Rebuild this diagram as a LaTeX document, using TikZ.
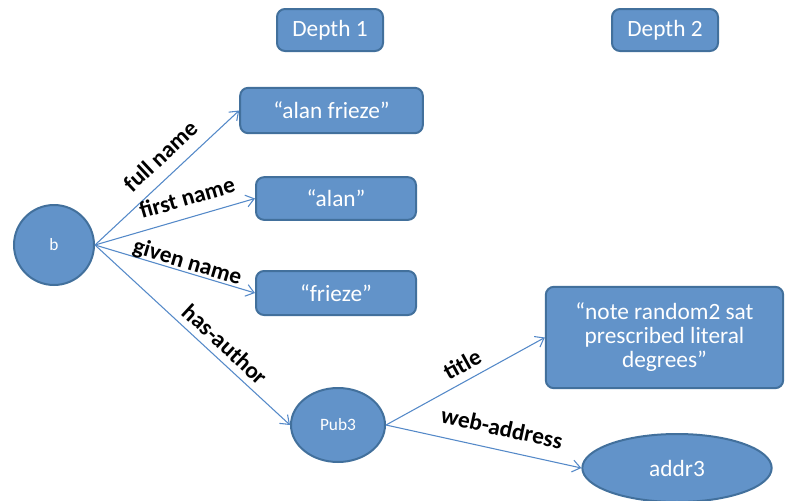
\documentclass[tikz,border=0pt]{standalone}
\usepackage{fontspec}
\setmainfont{Carlito}
\usetikzlibrary{arrows.meta,shapes.geometric}

\definecolor{boxfill}{RGB}{98,147,201}
\definecolor{boxline}{RGB}{66,112,156}
\definecolor{edgeline}{RGB}{84,137,200}

\tikzset{
  box/.style={draw=boxline, fill=boxfill, line width=1.5pt, rounded corners=6pt,
    text=white, font=\fontsize{17.5}{18}\selectfont, align=center, inner sep=2pt},
  oval/.style={ellipse, draw=boxline, fill=boxfill, line width=1.5pt, text=white, inner sep=1pt},
  link/.style={draw=edgeline, line width=0.8pt, -{Straight Barb[length=6pt,width=9pt]}},
  lab/.style={sloped, above=#1, anchor=center, font=\bfseries\fontsize{17.5}{19}\selectfont,
    text=black, inner sep=0pt}
}

\begin{document}
\begin{tikzpicture}[x=0.75pt,y=-0.75pt]
    \useasboundingbox (0,0) rectangle (785,500);

    % headers
    \node[box, minimum width=79.5pt, minimum height=31.5pt] (d1) at (330,30) {Depth 1};
    \node[box, minimum width=79.5pt, minimum height=31.5pt] (d2) at (665,30) {Depth 2};

    % depth 1 nodes
    \node[oval, circle, minimum size=60pt, font=\fontsize{13}{15}\selectfont] (b) at (54,245) {b};
    \node[box, minimum width=137pt, minimum height=34pt] (fullnm) at (331.5,110.5) {“alan frieze”};
    \node[box, minimum width=120pt, minimum height=32pt] (firstnm) at (336,198.5) {“alan”};
    \node[box, minimum width=120pt, minimum height=33pt] (givennm) at (336,293) {“frieze”};
    \node[oval, minimum width=70.5pt, minimum height=55.5pt, font=\fontsize{13}{15}\selectfont] (pub) at (338,425) {Pub3};

    % depth 2 nodes
    \node[box, minimum width=178pt, minimum height=76pt] (ttl) at (664.5,337.5)
        {“note random2 sat\\prescribed literal\\degrees”};
    \node[oval, minimum width=142pt, minimum height=51pt, font=\fontsize{17.5}{19}\selectfont] (addr) at (677,468) {addr3};

    % edges
    \draw[link] (b.east) -- (fullnm.west) node[lab=15.5pt, pos=0.55] {full name};
    \draw[link] (b.east) -- (firstnm.west) node[lab=15pt, pos=0.61] {first name};
    \draw[link] (b.east) -- (givennm.west) node[lab=7pt, pos=0.56] {given name};
    \draw[link] (b.east) -- (pub.west) node[lab=11.5pt, pos=0.615] {has-author};
    \draw[link] (pub.east) -- (ttl.west) node[lab=12.5pt, pos=0.53] {title};
    \draw[link] (pub.east) -- (addr.west) node[lab=16.5pt, pos=0.57] {web-address};
\end{tikzpicture}
\end{document}
